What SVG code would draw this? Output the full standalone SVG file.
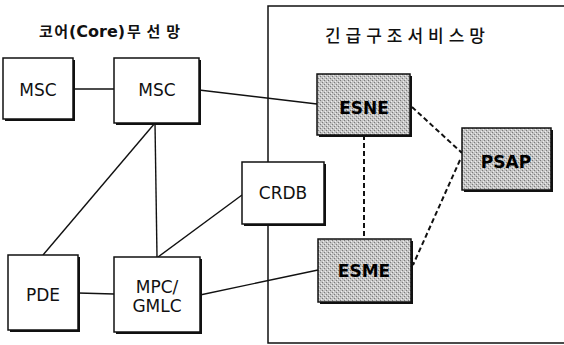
<svg xmlns="http://www.w3.org/2000/svg" width="564" height="345" viewBox="0 0 564 345">
<defs>
<pattern id="dither" width="4" height="4" patternUnits="userSpaceOnUse">
<rect width="4" height="4" fill="#c4c4c4"/>
<rect x="0" y="0" width="1" height="1" fill="#7a7a7a"/>
<rect x="2" y="2" width="1" height="1" fill="#7a7a7a"/>
<rect x="3" y="1" width="1" height="1" fill="#eeeeee"/>
<rect x="1" y="3" width="1" height="1" fill="#eeeeee"/>
</pattern>
</defs>
<style>
.box{fill:#fff;stroke:#111;stroke-width:1.5}
.gbox{fill:url(#dither);stroke:#111;stroke-width:1.5}
.shadow{fill:#111}
.lbl{font-family:"DejaVu Sans",Verdana,sans-serif;font-size:17px;fill:#111;text-anchor:middle;dominant-baseline:central}
.blbl{font-family:"DejaVu Sans",Verdana,sans-serif;font-size:17px;font-weight:bold;fill:#000;text-anchor:middle;dominant-baseline:central}
.ln{stroke:#111;stroke-width:1.4;fill:none}
.dash{stroke:#111;stroke-width:2;stroke-dasharray:5 3;fill:none}
.title{font-family:"Noto Sans CJK KR","Noto Sans",sans-serif;fill:#111}
</style>
<rect width="564" height="345" fill="#fff"/>
<g id="region">
<path d="M564,6 H268 V343 H564" fill="none" stroke="#111" stroke-width="1.5"/>
</g>
<g id="titles">
<text class="title" y="37" font-size="15" font-weight="bold"><tspan x="39" textLength="29" lengthAdjust="spacing">코어</tspan><tspan x="69" font-family="DejaVu Sans,sans-serif" font-weight="bold" font-size="16">(Core)</tspan><tspan x="127" textLength="53" lengthAdjust="spacing">무선망</tspan></text>
<text class="title" x="325" y="42" font-size="17" font-weight="500" textLength="160" lengthAdjust="spacing">긴급구조서비스망</text>
</g>
<g id="connectors">
<line class="ln" x1="73" y1="89" x2="114" y2="89"/>
<line class="ln" x1="199" y1="90" x2="317" y2="104"/>
<line class="ln" x1="155" y1="123" x2="43" y2="255"/>
<line class="ln" x1="155" y1="123" x2="157" y2="257"/>
<line class="ln" x1="242" y1="195" x2="158" y2="257"/>
<line class="ln" x1="78" y1="293" x2="114" y2="294"/>
<line class="ln" x1="200" y1="295" x2="318" y2="270"/>
<line class="dash" x1="364" y1="135" x2="364" y2="239"/>
<line class="dash" x1="412" y1="107" x2="462" y2="153"/>
<line class="dash" x1="460" y1="160" x2="413" y2="265"/>
</g>
<g id="msc1">
<rect class="shadow" x="5" y="60" width="70" height="61"/>
<rect class="box" x="3" y="58" width="70" height="61"/>
<text class="lbl" x="38" y="90">MSC</text>
</g>
<g id="msc2">
<rect class="shadow" x="116" y="60" width="85" height="65"/>
<rect class="box" x="114" y="58" width="85" height="65"/>
<text class="lbl" x="157" y="90">MSC</text>
</g>
<g id="esne">
<rect class="shadow" x="319" y="76" width="93" height="61"/>
<rect class="gbox" x="317" y="74" width="93" height="61"/>
<text class="blbl" x="364" y="108">ESNE</text>
</g>
<g id="psap">
<rect class="shadow" x="464" y="130" width="89" height="62"/>
<rect class="gbox" x="462" y="128" width="89" height="62"/>
<text class="blbl" x="506" y="162">PSAP</text>
</g>
<g id="crdb">
<rect class="shadow" x="244" y="164" width="82" height="62"/>
<rect class="box" x="242" y="162" width="82" height="62"/>
<text class="lbl" x="283" y="193">CRDB</text>
</g>
<g id="pde">
<rect class="shadow" x="10" y="257" width="70" height="75"/>
<rect class="box" x="8" y="255" width="70" height="75"/>
<text class="lbl" x="43" y="295">PDE</text>
</g>
<g id="mpc">
<rect class="shadow" x="116" y="259" width="86" height="75"/>
<rect class="box" x="114" y="257" width="86" height="75"/>
<text class="lbl" x="157" y="287">MPC/</text>
<text class="lbl" x="157" y="306">GMLC</text>
</g>
<g id="esme">
<rect class="shadow" x="320" y="241" width="93" height="63"/>
<rect class="gbox" x="318" y="239" width="93" height="63"/>
<text class="blbl" x="364" y="271">ESME</text>
</g>
</svg>
